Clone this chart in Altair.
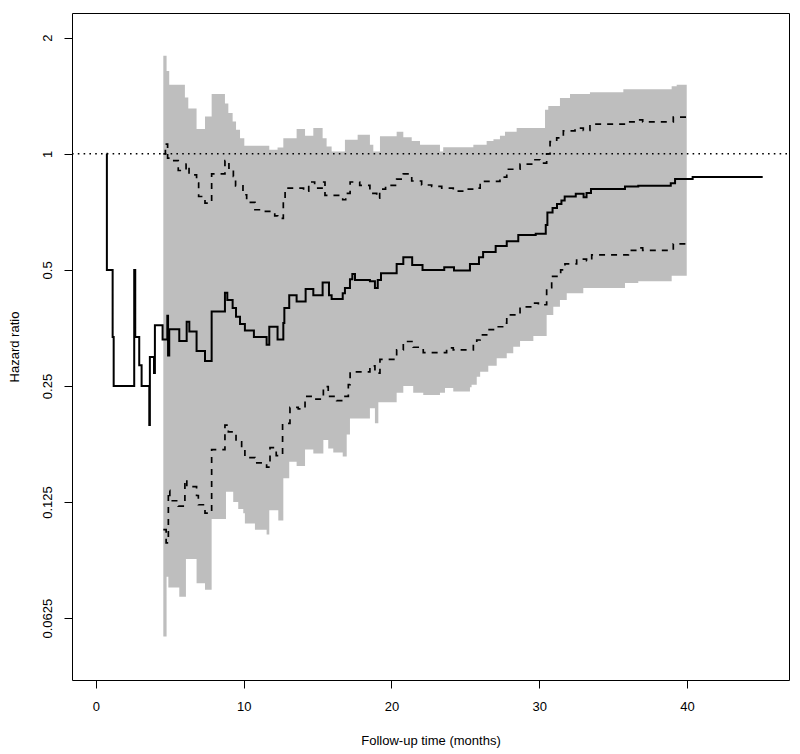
import altair as alt
import pandas as pd

# ---- data (time in months, hazard ratio) ----
hr_steps = [(0.72, 1.0), (0.74, 0.5), (1.13, 0.335), (1.20, 0.25), (2.59, 0.5), (2.66, 0.335),
            (2.93, 0.283), (3.09, 0.25), (3.61, 0.198), (3.65, 0.297), (3.93, 0.27), (3.99, 0.359),
            (4.51, 0.33), (4.83, 0.38), (4.88, 0.30), (4.96, 0.351), (5.64, 0.327), (6.14, 0.367),
            (6.32, 0.346), (6.81, 0.308), (7.38, 0.29), (7.83, 0.39), (8.73, 0.436), (8.89, 0.418),
            (9.25, 0.398), (9.48, 0.378), (9.75, 0.362), (10.08, 0.348), (10.69, 0.335), (11.55, 0.32),
            (11.73, 0.356), (12.29, 0.33), (12.68, 0.364), (12.75, 0.398), (13.08, 0.43), (13.58, 0.414),
            (14.19, 0.446), (14.71, 0.43), (15.34, 0.464), (15.77, 0.43), (15.95, 0.42), (16.70, 0.435),
            (16.85, 0.449), (17.19, 0.473), (17.35, 0.488), (17.53, 0.471), (18.54, 0.467), (18.88, 0.449),
            (19.07, 0.471), (19.29, 0.49), (20.35, 0.518), (20.80, 0.539), (21.40, 0.515), (22.10, 0.5),
            (23.57, 0.508), (24.23, 0.498), (25.31, 0.518), (25.92, 0.539), (26.20, 0.556), (27.05, 0.577),
            (27.80, 0.593), (28.58, 0.616), (29.76, 0.62), (30.44, 0.654), (30.55, 0.704), (30.90, 0.723),
            (31.20, 0.741), (31.50, 0.757), (31.72, 0.775), (32.47, 0.788), (33.00, 0.772), (33.20, 0.791),
            (33.50, 0.81), (35.80, 0.823), (36.70, 0.826), (38.90, 0.839), (39.19, 0.86), (40.38, 0.87),
            (45.12, 0.87)]

upper_steps = [(4.56, 1.0), (4.70, 1.06), (4.85, 0.975), (5.20, 0.96), (5.57, 0.905), (6.10, 0.94),
               (6.30, 0.882), (6.81, 0.84), (6.95, 0.775), (7.38, 0.745), (7.83, 0.887), (8.73, 0.96),
               (9.00, 0.918), (9.30, 0.874), (9.45, 0.826), (9.95, 0.783), (10.20, 0.748), (10.76, 0.716),
               (11.30, 0.709), (12.10, 0.69), (12.30, 0.68), (12.68, 0.76), (12.80, 0.815), (14.05, 0.80),
               (14.40, 0.845), (14.80, 0.815), (15.30, 0.845), (15.50, 0.78), (16.70, 0.76), (16.90, 0.79),
               (17.20, 0.845), (17.85, 0.828), (18.54, 0.79), (19.00, 0.767), (19.20, 0.81), (19.60, 0.828),
               (20.35, 0.86), (20.80, 0.887), (21.37, 0.85), (22.04, 0.83), (22.72, 0.823), (23.40, 0.815),
               (24.18, 0.80), (25.20, 0.81), (25.60, 0.815), (26.00, 0.848), (27.34, 0.87), (27.80, 0.912),
               (28.70, 0.94), (29.60, 0.965), (30.05, 0.946), (30.50, 1.0), (30.73, 1.076), (31.18, 1.10),
               (31.63, 1.147), (32.42, 1.166), (32.98, 1.15), (33.43, 1.194), (36.03, 1.21), (36.80, 1.225),
               (37.00, 1.21), (39.07, 1.245), (39.98, 1.245)]

lower_steps = [(4.56, 0.106), (4.75, 0.098), (4.90, 0.134), (5.00, 0.126), (5.57, 0.122), (6.02, 0.143),
               (6.15, 0.137), (6.81, 0.13), (6.93, 0.123), (7.38, 0.117), (7.83, 0.171), (8.73, 0.198),
               (8.96, 0.19), (9.48, 0.179), (9.86, 0.171), (10.08, 0.163), (10.76, 0.158), (11.55, 0.154),
               (11.78, 0.173), (12.20, 0.165), (12.63, 0.20), (13.13, 0.22), (13.69, 0.218), (14.15, 0.235),
               (14.71, 0.231), (15.39, 0.249), (15.72, 0.235), (16.29, 0.229), (16.74, 0.235), (17.08, 0.252),
               (17.20, 0.272), (18.54, 0.282), (18.88, 0.27), (19.22, 0.293), (20.35, 0.31), (20.80, 0.326),
               (21.47, 0.315), (22.15, 0.305), (23.73, 0.314), (24.18, 0.31), (25.54, 0.32), (25.77, 0.329),
               (26.00, 0.339), (26.44, 0.35), (27.00, 0.356), (27.68, 0.364), (27.80, 0.382), (28.70, 0.401),
               (29.60, 0.41), (29.94, 0.406), (30.50, 0.45), (30.84, 0.481), (31.45, 0.50), (31.74, 0.518),
               (32.53, 0.533), (33.20, 0.528), (33.55, 0.547), (36.03, 0.562), (36.80, 0.57), (37.00, 0.562),
               (39.07, 0.584), (39.98, 0.584)]

band_hi_steps = [(4.56, 1.797), (4.78, 1.64), (4.96, 1.51), (6.02, 1.40), (6.25, 1.31), (6.81, 1.159),
                 (7.38, 1.25), (7.83, 1.43), (8.73, 1.35), (8.96, 1.275), (9.25, 1.213), (9.48, 1.155),
                 (9.75, 1.098), (10.04, 1.05), (11.73, 1.024), (12.29, 1.038), (12.68, 1.098), (13.58, 1.159),
                 (14.15, 1.113), (14.71, 1.166), (15.34, 1.098), (15.61, 1.045), (15.95, 1.014), (16.85, 1.087),
                 (17.71, 1.12), (18.54, 1.055), (18.77, 1.014), (19.22, 1.11), (20.35, 1.14), (20.80, 1.104),
                 (21.37, 1.08), (21.93, 1.055), (23.28, 1.014), (23.50, 1.04), (25.54, 1.055), (26.44, 1.08),
                 (26.90, 1.091), (27.34, 1.113), (27.68, 1.14), (28.47, 1.166), (30.39, 1.30), (30.61, 1.33),
                 (31.40, 1.395), (32.08, 1.43), (33.43, 1.445), (35.69, 1.47), (38.96, 1.496), (39.30, 1.51),
                 (39.98, 1.51)]

band_lo_steps = [(4.56, 0.056), (4.78, 0.080), (4.90, 0.075), (5.64, 0.071), (6.09, 0.089), (6.81, 0.077),
                 (7.38, 0.074), (7.83, 0.113), (8.80, 0.133), (9.29, 0.125), (9.63, 0.12), (9.97, 0.117),
                 (10.08, 0.110), (10.76, 0.106), (11.55, 0.103), (11.73, 0.119), (12.34, 0.112), (12.68, 0.144),
                 (13.08, 0.159), (13.58, 0.155), (14.15, 0.171), (14.71, 0.167), (15.39, 0.181), (15.72, 0.172),
                 (16.06, 0.168), (16.70, 0.164), (16.97, 0.187), (17.19, 0.206), (18.54, 0.219), (18.88, 0.20),
                 (19.11, 0.227), (20.35, 0.24), (20.80, 0.25), (21.47, 0.24), (22.15, 0.237), (23.28, 0.24),
                 (23.62, 0.247), (24.18, 0.242), (25.31, 0.248), (25.42, 0.252), (25.77, 0.264), (26.00, 0.272),
                 (26.55, 0.282), (27.12, 0.295), (27.80, 0.304), (28.24, 0.316), (28.70, 0.327), (29.60, 0.337),
                 (30.50, 0.382), (30.95, 0.401), (31.40, 0.418), (31.86, 0.435), (32.98, 0.449), (35.80, 0.462),
                 (36.70, 0.467), (38.96, 0.483), (39.98, 0.483)]

x_ticks = [0, 10, 20, 30, 40]
y_ticks = [0.0625, 0.125, 0.25, 0.5, 1, 2]
reference_hr = [1.0]

# ---- tables ----
hr_df = pd.DataFrame(hr_steps, columns=["t", "v"])
up_df = pd.DataFrame(upper_steps, columns=["t", "v"])
lo_df = pd.DataFrame(lower_steps, columns=["t", "v"])
hi_b = pd.DataFrame(band_hi_steps, columns=["t", "hi"])
lo_b = pd.DataFrame(band_lo_steps, columns=["t", "lo"])
band_df = pd.merge(hi_b, lo_b, on="t", how="outer").sort_values("t").ffill()
ref_df = pd.DataFrame({"v": reference_hr})

W, H = 717, 667
FONT = "Liberation Sans"

xs = alt.Scale(domain=[-1.62, 46.9], nice=False, zero=False)
ys = alt.Scale(type="log", base=2, domain=[0.0432, 2.318], nice=False)

xaxis = alt.Axis(values=x_ticks, title="Follow-up time (months)", grid=False, domain=False,
                 tickSize=8, tickColor="black", labelPadding=12, labelFontSize=13,
                 titleFontSize=13, titleFontWeight="normal", titleX=W / 2, titleY=60,
                 titleAlign="center", titleBaseline="middle", labelFlush=False,
                 labelOverlap=False)
yaxis = alt.Axis(values=y_ticks, format="~g", title="Hazard ratio", grid=False, domain=False,
                 tickSize=8, tickColor="black", labelPadding=17, labelFontSize=13,
                 labelAngle=-90, labelAlign="center", labelBaseline="middle",
                 titleFontSize=13, titleFontWeight="normal", titleX=-58, titleY=H / 2,
                 titleAngle=-90, titleAlign="center", titleBaseline="middle",
                 labelFlush=False, labelOverlap=False)

X = alt.X("t:Q", scale=xs, axis=xaxis)

band = alt.Chart(band_df).mark_area(interpolate="step-after", color="#BEBEBE", opacity=1).encode(
    x=X, y=alt.Y("lo:Q", scale=ys, axis=yaxis), y2="hi:Q")

ref = alt.Chart(ref_df).mark_rule(color="black", strokeWidth=1.6, strokeDash=[1.6, 4.2]).encode(
    y=alt.Y("v:Q", scale=ys, axis=yaxis), x=alt.value(0), x2=alt.value(W))

upper = alt.Chart(up_df).mark_line(interpolate="step-after", color="black", strokeWidth=1.7,
                                   strokeDash=[6, 6], strokeCap="butt").encode(
    x=X, y=alt.Y("v:Q", scale=ys, axis=yaxis))
lower = alt.Chart(lo_df).mark_line(interpolate="step-after", color="black", strokeWidth=1.7,
                                   strokeDash=[6, 6], strokeCap="butt").encode(
    x=X, y=alt.Y("v:Q", scale=ys, axis=yaxis))
hr = alt.Chart(hr_df).mark_line(interpolate="step-after", color="black", strokeWidth=2).encode(
    x=X, y=alt.Y("v:Q", scale=ys, axis=yaxis))

chart = alt.layer(band, ref, upper, lower, hr).properties(
    width=W, height=H,
    autosize=alt.AutoSizeParams(type="none"),
    padding={"left": 64, "top": 5, "right": 3, "bottom": 72},
).configure_view(stroke="black", strokeWidth=1).configure_axis(
    labelFont=FONT, titleFont=FONT, labelColor="black", titleColor="black")

chart.save("out.html", embed_options={"renderer": "svg", "actions": False})
